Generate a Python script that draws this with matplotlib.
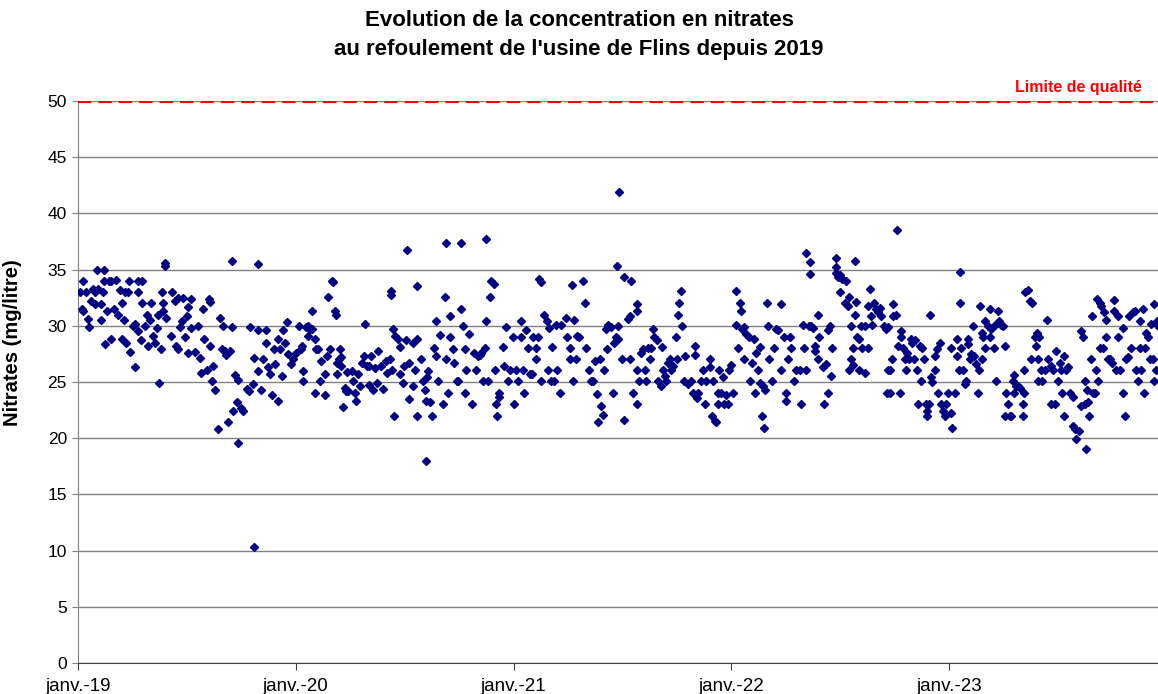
import numpy as np
import matplotlib
matplotlib.use("Agg")
import matplotlib.pyplot as plt

plt.rcParams['font.family'] = ['Liberation Sans', 'DejaVu Sans']

# (jours depuis le 01/01/2019, nitrates en mg/l)
releves_2019 = [
    (3, 33.0), (7, 31.5), (8, 31.3), (8, 34.0), (14, 33.0), (16, 30.6), (18, 29.9), (22, 32.2),
    (25, 33.3), (28, 33.0), (29, 31.9), (31, 35.0), (34, 33.3), (39, 31.9), (39, 30.5), (42, 33.0),
    (44, 35.0), (44, 34.0), (46, 28.4), (49, 31.3), (52, 34.0), (56, 28.8), (56, 34.0), (60, 31.5),
    (63, 34.1), (67, 31.0), (70, 33.2), (73, 32.0), (73, 28.8), (77, 30.5), (78, 33.0), (81, 28.5),
    (84, 33.0), (85, 34.0), (87, 27.7), (92, 30.0), (95, 26.3), (96, 30.2), (100, 34.0), (100, 33.0),
    (101, 29.5), (106, 28.7), (108, 34.0), (108, 32.0), (112, 30.0), (115, 31.0), (118, 28.2),
    (120, 30.5), (122, 32.0), (126, 29.1), (129, 28.5), (133, 29.8), (134, 31.0), (135, 24.9),
    (140, 27.9), (141, 33.0), (142, 32.0), (143, 31.3), (146, 35.6), (146, 35.3), (147, 30.7),
    (156, 29.1), (157, 33.0), (162, 32.2), (165, 28.2), (167, 27.9), (168, 32.5), (171, 29.9),
    (174, 30.4), (176, 32.5), (179, 29.0), (182, 30.9), (185, 31.7), (185, 27.6), (190, 32.4),
    (190, 29.8), (197, 27.7), (202, 30.0), (204, 27.1), (207, 25.8), (210, 31.5), (212, 28.8),
    (216, 26.1), (220, 32.4), (221, 32.1), (221, 28.2), (224, 25.1), (227, 26.4), (230, 24.3),
    (234, 20.8), (238, 30.7), (241, 27.9), (244, 30.0), (246, 27.8), (249, 27.4), (252, 21.4),
    (255, 27.8), (259, 35.8), (259, 29.9), (260, 22.4), (263, 25.6), (266, 23.2), (268, 25.2),
    (269, 19.6), (273, 22.7), (276, 22.4), (283, 24.4), (287, 24.2), (288, 29.9), (294, 24.8),
    (295, 10.3), (296, 27.1), (302, 35.5), (302, 29.6), (302, 26.0), (307, 24.3), (311, 27.0),
    (316, 29.6), (316, 28.5), (319, 26.3), (322, 25.7), (325, 23.8), (328, 27.9), (330, 26.6),
    (335, 23.3), (336, 28.8), (339, 27.9), (342, 25.5), (344, 29.6), (347, 28.5), (350, 30.3),
    (353, 27.5), (358, 26.6), (361, 27.0),
]
releves_2020 = [
    (366, 27.6), (370, 30.0), (374, 27.9), (376, 28.2), (378, 26.0), (378, 25.1), (383, 29.9),
    (385, 29.1), (386, 30.0), (389, 29.7), (392, 31.3), (393, 29.7), (397, 28.8), (397, 24.0),
    (400, 27.9), (403, 27.9), (406, 25.1), (408, 26.9), (414, 25.7), (414, 23.8), (417, 27.3),
    (420, 32.6), (423, 27.9), (426, 34.0), (428, 33.9), (431, 31.3), (432, 31.0), (434, 25.7),
    (434, 26.7), (437, 27.0), (440, 27.9), (441, 26.4), (442, 27.2), (445, 22.8), (448, 24.5),
    (450, 24.2), (452, 25.9), (453, 24.2), (459, 26.0), (461, 25.1), (464, 24.0), (467, 23.3),
    (470, 25.7), (473, 24.6), (476, 26.7), (480, 27.3), (481, 30.2), (484, 26.4), (488, 24.7),
    (489, 26.4), (492, 27.3), (495, 24.3), (498, 26.2), (502, 24.9), (504, 27.8), (509, 26.4),
    (512, 24.4), (517, 26.9), (519, 25.8), (523, 27.0), (525, 33.1), (525, 32.7), (526, 26.1),
    (528, 29.7), (530, 22.0), (531, 29.1), (536, 28.8), (540, 28.1), (541, 25.7), (545, 24.9),
    (547, 26.4), (551, 28.7), (552, 36.7), (555, 26.7), (556, 23.5), (562, 28.5), (562, 24.6),
    (565, 26.1), (568, 33.5), (568, 28.8), (569, 22.0), (575, 27.0), (579, 25.1), (582, 24.3),
    (583, 23.3), (584, 18.0), (586, 25.4), (588, 26.0), (590, 23.2), (594, 22.0), (597, 28.0),
    (601, 30.4), (601, 27.3), (604, 25.1), (607, 29.2), (612, 23.0), (616, 32.6), (617, 37.4),
    (618, 27.0), (620, 24.0), (624, 30.9), (624, 29.0), (629, 27.9), (631, 26.7), (635, 25.1),
    (637, 25.1), (643, 31.5), (643, 37.4), (646, 30.0), (649, 27.9), (649, 24.0), (651, 26.1),
    (656, 29.3), (661, 23.0), (664, 27.6), (668, 26.1), (671, 27.3), (674, 27.4), (676, 27.6),
    (679, 25.1), (682, 28.0), (684, 30.4), (685, 37.7), (688, 25.1), (692, 32.6), (693, 34.0),
    (698, 33.7), (699, 26.1), (702, 23.0), (703, 22.0), (706, 23.7), (707, 24.0), (713, 28.1),
    (715, 26.4), (718, 29.9), (721, 25.1), (724, 26.1), (730, 29.0),
]
releves_2021 = [
    (731, 23.0), (735, 26.1), (739, 25.1), (743, 30.4), (744, 29.0), (746, 26.1), (749, 24.0),
    (752, 29.6), (755, 28.0), (759, 25.7), (762, 25.7), (763, 29.0), (768, 28.0), (768, 27.0),
    (772, 29.0), (774, 34.2), (776, 33.9), (777, 25.1), (782, 31.0), (786, 30.4), (788, 26.1),
    (791, 29.8), (793, 25.1), (795, 28.1), (799, 25.1), (802, 30.1), (804, 26.1), (808, 24.0),
    (811, 30.1), (819, 30.7), (821, 29.0), (825, 28.0), (826, 27.0), (829, 33.6), (830, 25.1),
    (832, 30.5), (836, 27.0), (838, 29.1), (840, 29.0), (847, 34.0), (851, 32.0), (853, 28.0),
    (858, 26.1), (861, 25.1), (864, 25.1), (867, 26.9), (871, 23.9), (872, 21.4), (875, 27.0),
    (878, 22.9), (880, 22.1), (882, 26.1), (886, 29.7), (888, 27.9), (889, 30.1), (895, 29.9),
    (897, 24.0), (900, 28.5), (903, 29.0), (905, 35.3), (906, 30.0), (906, 28.8), (908, 41.9),
    (912, 27.0), (916, 34.3), (916, 21.6), (923, 30.6), (926, 30.9), (926, 27.0), (928, 34.0),
    (931, 24.0), (937, 31.9), (937, 31.3), (937, 26.1), (938, 23.0), (942, 25.1), (945, 27.6),
    (948, 27.9), (951, 26.1), (953, 25.1), (956, 28.0), (959, 27.0), (962, 28.0), (965, 29.7),
    (967, 29.0), (972, 28.7), (973, 25.1), (978, 24.6), (979, 28.1), (981, 26.1), (984, 25.5),
    (987, 25.1), (990, 26.7), (993, 27.0), (995, 26.1), (998, 26.4), (1004, 29.0), (1005, 27.0),
    (1007, 31.0), (1009, 32.0), (1012, 33.1), (1013, 30.0), (1017, 25.1), (1018, 27.3),
    (1023, 24.8), (1028, 25.1), (1032, 24.0), (1035, 28.2), (1035, 27.4), (1039, 23.6),
    (1041, 24.0), (1046, 25.1), (1049, 26.1), (1052, 23.0), (1054, 25.1), (1060, 27.0),
    (1061, 26.3), (1064, 22.0), (1065, 25.1), (1068, 21.5), (1071, 21.4), (1073, 23.0),
    (1074, 24.0), (1076, 26.1), (1079, 24.0), (1082, 25.4), (1084, 23.0), (1088, 23.8),
    (1090, 23.0), (1093, 26.1),
]
releves_2022 = [
    (1096, 26.5), (1099, 24.0), (1104, 33.1), (1104, 30.1), (1107, 28.0), (1110, 32.0),
    (1112, 31.3), (1114, 29.7), (1117, 29.9), (1118, 27.0), (1121, 29.3), (1125, 29.0),
    (1127, 25.1), (1130, 26.7), (1134, 28.8), (1136, 24.0), (1138, 27.6), (1141, 26.1),
    (1144, 28.1), (1145, 24.9), (1147, 22.0), (1149, 24.6), (1151, 20.9), (1152, 24.3),
    (1156, 32.0), (1158, 30.0), (1160, 27.0), (1164, 25.1), (1168, 28.0), (1171, 29.7),
    (1174, 29.6), (1180, 31.9), (1180, 26.1), (1184, 29.0), (1188, 24.0), (1188, 23.3),
    (1192, 27.0), (1194, 29.0), (1197, 28.0), (1201, 25.1), (1205, 26.1), (1211, 26.1),
    (1213, 23.0), (1216, 30.1), (1218, 28.0), (1222, 36.5), (1222, 26.1), (1227, 30.0),
    (1228, 35.7), (1228, 34.6), (1230, 30.0), (1233, 29.8), (1236, 28.2), (1236, 27.8),
    (1241, 31.0), (1241, 27.0), (1244, 29.0), (1250, 26.3), (1251, 23.0), (1255, 26.6),
    (1258, 29.6), (1258, 24.0), (1261, 30.0), (1264, 25.5), (1265, 28.0), (1271, 36.0),
    (1271, 35.2), (1271, 34.7), (1275, 34.3), (1278, 33.0), (1279, 34.5), (1282, 34.2),
    (1286, 32.0), (1288, 34.0), (1292, 31.8), (1293, 32.6), (1294, 26.1), (1297, 27.0),
    (1297, 30.0), (1300, 28.0), (1300, 26.5), (1303, 31.0), (1304, 35.8), (1306, 32.1),
    (1307, 29.0), (1310, 28.8), (1311, 26.1), (1313, 30.0), (1315, 28.0), (1320, 30.0),
    (1321, 25.8), (1325, 28.0), (1326, 31.8), (1328, 33.3), (1331, 30.9), (1332, 30.1),
    (1335, 32.0), (1339, 31.5), (1342, 31.2), (1345, 31.6), (1348, 30.9), (1353, 30.0),
    (1356, 29.7), (1358, 24.0), (1359, 26.1), (1359, 29.9), (1362, 24.0), (1363, 26.1),
    (1366, 27.0), (1367, 31.9), (1367, 30.9), (1373, 31.0), (1374, 38.5), (1375, 28.2),
    (1379, 24.0), (1381, 29.5), (1381, 29.0), (1384, 28.0), (1387, 27.0), (1390, 26.1),
    (1391, 27.6), (1394, 27.0), (1397, 28.8), (1399, 28.5), (1403, 27.0), (1405, 28.7),
    (1408, 26.1), (1410, 23.0), (1412, 28.2), (1415, 25.1), (1416, 28.0), (1419, 27.0),
    (1423, 23.0), (1425, 22.4), (1425, 22.0), (1427, 23.0), (1429, 31.0), (1431, 25.4),
    (1432, 25.0), (1437, 26.1), (1438, 27.3), (1442, 27.9), (1443, 24.0), (1446, 28.5),
    (1448, 23.0), (1451, 22.4), (1454, 22.0), (1457, 23.0), (1460, 24.0),
]
releves_2023 = [
    (1464, 22.2), (1465, 28.0), (1466, 20.9), (1471, 24.0), (1474, 28.8), (1475, 27.3),
    (1478, 26.1), (1479, 34.8), (1479, 32.0), (1481, 28.0), (1485, 26.1), (1488, 24.8),
    (1490, 25.1), (1493, 28.8), (1494, 28.4), (1496, 27.0), (1499, 27.5), (1502, 30.0),
    (1504, 27.3), (1507, 26.6), (1510, 24.0), (1511, 26.1), (1514, 31.8), (1516, 27.0),
    (1516, 29.4), (1518, 29.0), (1521, 30.4), (1522, 28.0), (1527, 30.0), (1530, 31.5),
    (1530, 29.0), (1532, 29.7), (1537, 28.0), (1538, 30.1), (1541, 25.1), (1543, 31.3),
    (1546, 30.4), (1549, 30.1), (1552, 30.0), (1555, 28.2), (1555, 22.0), (1557, 24.0),
    (1560, 23.0), (1563, 22.0), (1566, 22.0), (1569, 25.1), (1570, 25.6), (1571, 24.0),
    (1574, 24.6), (1577, 24.6), (1580, 24.5), (1585, 23.0), (1585, 22.0), (1587, 24.0),
    (1588, 26.1), (1589, 33.0), (1594, 33.2), (1597, 32.2), (1599, 27.0), (1600, 32.0),
    (1605, 29.0), (1608, 28.2), (1609, 29.4), (1611, 27.0), (1611, 25.1), (1613, 29.0),
    (1616, 26.1), (1617, 25.1), (1622, 26.1), (1626, 30.5), (1627, 27.0), (1632, 26.4),
    (1633, 23.0), (1636, 26.1), (1639, 23.0), (1641, 27.8), (1644, 25.1), (1647, 26.7),
    (1650, 26.1), (1651, 24.0), (1654, 27.3), (1655, 22.0), (1658, 26.1), (1661, 26.3),
    (1664, 24.0), (1669, 23.7), (1669, 21.1), (1673, 20.8), (1675, 19.9), (1679, 20.6),
    (1682, 22.9), (1683, 29.5), (1686, 29.0), (1689, 25.1), (1689, 23.0), (1691, 19.0),
    (1693, 24.3), (1694, 23.2), (1697, 22.0), (1700, 27.0), (1701, 30.9), (1703, 24.0),
    (1706, 24.0), (1708, 26.1), (1710, 32.4), (1711, 25.1), (1714, 28.0), (1714, 32.0),
    (1717, 31.8), (1720, 28.0), (1722, 31.2), (1725, 30.5), (1725, 29.0), (1728, 27.0),
    (1731, 27.0), (1734, 26.7), (1738, 32.3), (1739, 31.3), (1742, 26.1), (1745, 29.0),
    (1745, 30.9), (1748, 26.1), (1753, 29.8), (1753, 24.0), (1756, 22.0), (1759, 27.0),
    (1761, 27.2), (1764, 30.9), (1767, 28.0), (1770, 31.2), (1773, 31.3), (1775, 26.1),
    (1778, 25.1), (1781, 28.0), (1781, 30.4), (1784, 26.1), (1787, 31.5), (1788, 24.0),
    (1791, 28.0), (1792, 29.4), (1795, 29.0), (1798, 27.0), (1801, 30.2), (1803, 27.0),
    (1806, 31.9), (1806, 25.1), (1809, 26.1), (1811, 30.4), (1812, 30.0),
]

tick_dates = ['2019-01-01', '2020-01-01', '2021-01-01', '2022-01-01', '2023-01-01']
tick_labels = ['janv.-19', 'janv.-20', 'janv.-21', 'janv.-22', 'janv.-23']
limite = 50

releves = releves_2019 + releves_2020 + releves_2021 + releves_2022 + releves_2023
jours = np.array([r[0] for r in releves])
nitrates = np.array([r[1] for r in releves])
dates = np.datetime64('2019-01-01') + jours.astype('timedelta64[D]')

fig = plt.figure(figsize=(11.58, 6.94), dpi=100)
ax = fig.add_axes([0.0674, 0.0447, 0.9326, 0.8098])

ax.plot(dates, nitrates, linestyle='none', marker='D', markersize=4.2,
        color='#000080', markeredgecolor='#000080', zorder=3)

ax.set_ylim(0, 50)
ax.set_yticks(np.arange(0, 51, 5))
ax.set_xlim(np.datetime64('2019-01-01'), np.datetime64('2023-12-18'))
ax.set_xticks([np.datetime64(d) for d in tick_dates])
ax.set_xticklabels(tick_labels)

ax.grid(True, axis='y', color='#808080', linewidth=1)
ax.set_axisbelow(True)
ax.axhline(limite, color='#ff0000', linestyle=(0, (3.2, 1.7)), linewidth=3, zorder=4)
ax.text(0.926, limite + 0.5, 'Limite de qualité', transform=ax.get_yaxis_transform(),
        color='#ff0000', fontsize=11.5, fontweight='bold', ha='center', va='bottom')

for side in ['top', 'right']:
    ax.spines[side].set_visible(False)
ax.spines['left'].set_color('#808080')
ax.spines['bottom'].set_color('#404040')
ax.tick_params(axis='y', labelsize=12.5, length=4, color='#808080', pad=4)
ax.tick_params(axis='x', labelsize=13.5, length=5, color='#404040', pad=6)

ax.set_ylabel('Nitrates (mg/litre)', fontsize=14.5, fontweight='bold')
ax.yaxis.set_label_coords(-0.052, 0.57)
fig.suptitle("Evolution de la concentration en nitrates\nau refoulement de l'usine de Flins depuis 2019",
             fontsize=16, fontweight='bold', x=0.5, y=0.985, va='top', linespacing=1.45)

fig.savefig('out.png', dpi=100, facecolor='white')
